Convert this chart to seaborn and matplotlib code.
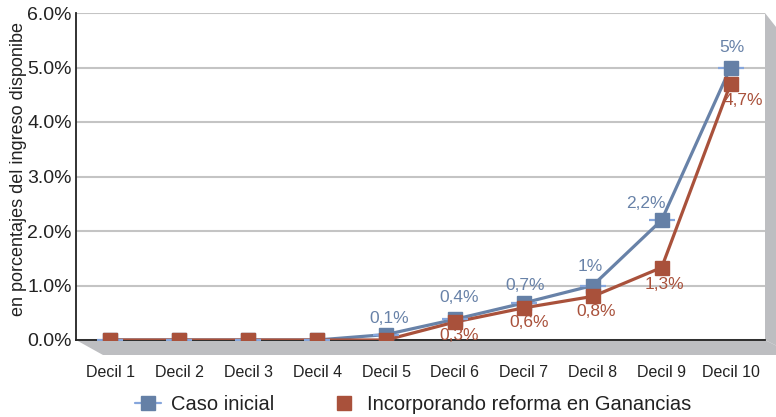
import matplotlib
matplotlib.use("Agg")
import matplotlib.pyplot as plt
import seaborn as sns
import pandas as pd
from matplotlib.patches import Polygon
from matplotlib.lines import Line2D
from matplotlib.ticker import FuncFormatter

deciles = ["Decil 1", "Decil 2", "Decil 3", "Decil 4", "Decil 5",
           "Decil 6", "Decil 7", "Decil 8", "Decil 9", "Decil 10"]
caso_inicial = [0.0, 0.0, 0.0, 0.0, 0.1, 0.38, 0.68, 1.0, 2.2, 5.0]
reforma = [0.0, 0.0, 0.0, 0.0, 0.0, 0.33, 0.59, 0.8, 1.33, 4.7]
labels_inicial = {4: "0,1%", 5: "0,4%", 6: "0,7%", 7: "1%", 8: "2,2%", 9: "5%"}
labels_reforma = {5: "0,3%", 6: "0,6%", 7: "0,8%", 8: "1,3%", 9: "4,7%"}
serie_names = ["Caso inicial", "Incorporando reforma en Ganancias"]

sns.set_theme(style="white")
plt.rcParams["font.family"] = ["Liberation Sans", "DejaVu Sans"]

BLUE = "#6580a6"
BLUE_LINE = "#6882a8"
BLUE_LIGHT = "#86a6dc"
RED = "#a9513b"
GREY = "#bdbec1"
TXT = "#222222"

fig = plt.figure(figsize=(7.76, 4.17), dpi=100)
ax = fig.add_axes([76/776, 1 - 340/417, (765-76)/776, (340-13)/417])

df = pd.DataFrame({
    "x": list(range(10)) * 2,
    "val": caso_inicial + reforma,
    "serie": [serie_names[0]] * 10 + [serie_names[1]] * 10,
})

# Floor and side wall (3D effect)
W = 765 - 76
H = 340 - 13
floor = Polygon([(0, 0), (1, 0), (1 + 30/W, -15/H), (27/W, -15/H)],
                closed=True, transform=ax.transAxes, facecolor=GREY,
                edgecolor="none", clip_on=False, zorder=0)
wall = Polygon([(1, 1), (1 + 30/W, 1 - 38/H), (1 + 30/W, -15/H), (1, 0)],
               closed=True, transform=ax.transAxes, facecolor=GREY,
               edgecolor="none", clip_on=False, zorder=0)
ax.add_patch(floor)
ax.add_patch(wall)

sns.lineplot(data=df[df.serie == serie_names[0]], x="x", y="val", ax=ax,
             color=BLUE_LINE, lw=2.3, legend=False, zorder=3)
sns.lineplot(data=df[df.serie == serie_names[1]], x="x", y="val", ax=ax,
             color=RED, lw=2.3, legend=False, zorder=4)
# markers
ax.plot(range(10), caso_inicial, ls="none", marker="_", ms=19, mew=1.6,
        color=BLUE_LIGHT, zorder=5)
ax.plot(range(10), caso_inicial, ls="none", marker="s", ms=10, mec=BLUE,
        mfc=BLUE, zorder=6)
ax.plot(range(10), reforma, ls="none", marker="s", ms=10, mec=RED,
        mfc=RED, zorder=7)

ax.set_xlim(-0.5, 9.5)
ax.set_ylim(0, 6)
ax.set_yticks([0, 1, 2, 3, 4, 5, 6])
ax.yaxis.set_major_formatter(FuncFormatter(lambda v, p: f"{v:.1f}%"))
ax.set_xticks(range(10))
ax.set_xticklabels(deciles)
ax.tick_params(axis="y", labelsize=14, pad=3, length=0, colors=TXT)
ax.tick_params(axis="x", labelsize=11.5, pad=18, length=0, colors=TXT)
ax.grid(axis="y", color="#c4c4c4", lw=1.5, zorder=1)
ax.set_axisbelow(True)
for s in ["top", "right"]:
    ax.spines[s].set_visible(False)
ax.spines["left"].set_color("#222222")
ax.spines["bottom"].set_color("#222222")
ax.spines["left"].set_linewidth(1.3)
ax.spines["bottom"].set_linewidth(1.3)
ax.set_facecolor("white")
ax.set_xlabel("")
ax.set_ylabel("en porcentajes del ingreso disponibe", fontsize=13, color=TXT)
ax.yaxis.set_label_coords(-0.071, 0.523)

# data labels (offsets in pixels, converted to points)
offs_i = {4: (3, 16), 5: (4, 22), 6: (1, 17), 7: (-3, 19), 8: (-16, 17), 9: (1, 20)}
for i, t in labels_inicial.items():
    dx, dy = offs_i[i]
    ax.annotate(t, (i, caso_inicial[i]), xytext=(dx * 0.72, dy * 0.72),
                textcoords="offset points", ha="center", va="center",
                fontsize=12.5, color=BLUE_LINE, zorder=8)
offs_r = {5: (4, -13), 6: (5, -15), 7: (3, -15), 8: (3, -17), 9: (13, -17)}
for i, t in labels_reforma.items():
    dx, dy = offs_r[i]
    ax.annotate(t, (i, reforma[i]), xytext=(dx * 0.72, dy * 0.72),
                textcoords="offset points", ha="center", va="center",
                fontsize=12.5, color=RED, zorder=8)

handles = [
    Line2D([], [], color=BLUE_LIGHT, lw=1.6, marker="s", ms=10, mfc=BLUE, mec=BLUE),
    Line2D([], [], ls="none", marker="s", ms=10, mfc=RED, mec=RED),
]
fig.legend(handles, serie_names, loc="lower center", bbox_to_anchor=(0.532, -0.037),
           ncol=2, frameon=False, fontsize=14.5, columnspacing=2.8, handlelength=1.3,
           handletextpad=0.5, labelcolor=TXT)

fig.savefig("out.png", dpi=100)
